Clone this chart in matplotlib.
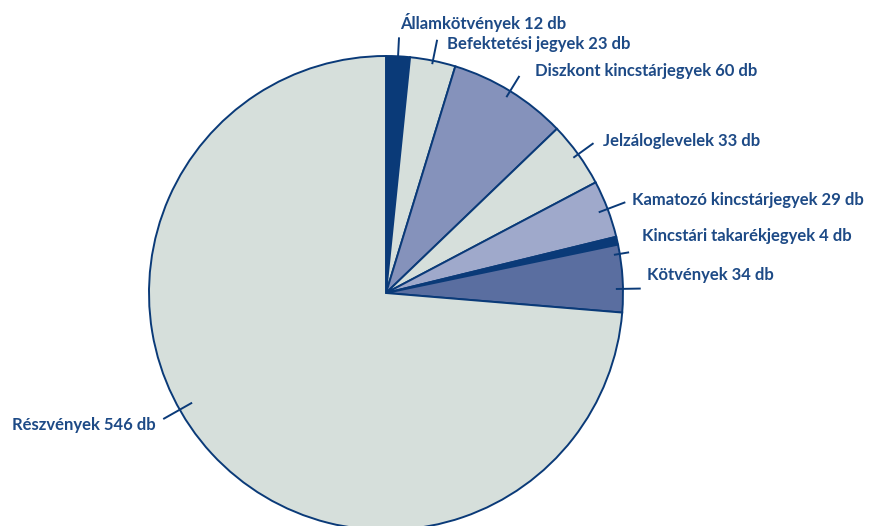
import numpy as np
import matplotlib
matplotlib.use("Agg")
import matplotlib.pyplot as plt

categories = ["Államkötvények", "Befektetési jegyek", "Diszkont kincstárjegyek",
              "Jelzáloglevelek", "Kamatozó kincstárjegyek", "Kincstári takarékjegyek",
              "Kötvények", "Részvények"]
values = [12, 23, 60, 33, 29, 4, 34, 546]
colors = ["#0a3a78", "#d6dfdb", "#8592bb", "#d6dfdb", "#9fa9cb", "#0a3a78", "#5a6ea0", "#d6dfdb"]

W, H = 869, 526
fig = plt.figure(figsize=(W / 100, H / 100), dpi=100)
ax = fig.add_axes([0, 0, 1, 1])

cx, cy, R = 386, H - 293, 237
edge = "#0a3a78"
wedges, _ = ax.pie(values, colors=colors, startangle=90, counterclock=False,
                   center=(cx, cy), radius=R, frame=True,
                   wedgeprops=dict(edgecolor=edge, linewidth=1.4))
ax.set_xlim(0, W)
ax.set_ylim(0, H)
ax.set_aspect("equal")
ax.axis("off")

text_color = "#1d4a86"
# label positions (left x, centre y in image pixels) and leader line angle overrides
label_pos = [(400, 22), (447, 44), (535, 71), (603, 141), (632, 200), (642, 236), (647, 275), (12, 425)]
angle_override = {7: 209.5, 5: 9.5, 6: 1.0}
r_in = [0.985, 0.985, 0.97, 0.975, 0.96, 0.975, 0.97, 0.94]
r_out = [1.08, 1.09, 1.075, 1.08, 1.08, 1.04, 1.075, 1.08]

for i, (w, cat, v) in enumerate(zip(wedges, categories, values)):
    ang = (w.theta1 + w.theta2) / 2.0
    ang = angle_override.get(i, ang)
    a = np.deg2rad(ang)
    x1, y1 = cx + R * r_in[i] * np.cos(a), cy + R * r_in[i] * np.sin(a)
    x2, y2 = cx + R * r_out[i] * np.cos(a), cy + R * r_out[i] * np.sin(a)
    ax.plot([x1, x2], [y1, y2], color=edge, lw=1.4, solid_capstyle="butt")
    lx, ly = label_pos[i]
    ax.text(lx, H - ly, f"{cat} {v} db", ha="left", va="center",
            fontsize=12, fontweight="bold", family="Lato", color=text_color)

fig.savefig("out.png", dpi=100)
